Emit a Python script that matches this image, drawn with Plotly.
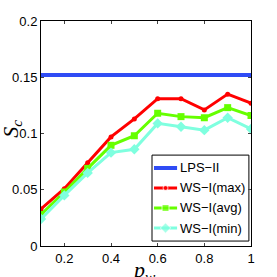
import plotly.graph_objects as go

x = [0.1, 0.2, 0.3, 0.4, 0.5, 0.6, 0.7, 0.8, 0.9, 1.0]
lps = [0.152] * 10
ws_max = [0.033, 0.051, 0.074, 0.097, 0.113, 0.131, 0.131, 0.121, 0.135, 0.127]
ws_avg = [0.028, 0.048, 0.069, 0.0895, 0.098, 0.118, 0.115, 0.114, 0.123, 0.116]
ws_min = [0.024, 0.045, 0.065, 0.083, 0.086, 0.109, 0.106, 0.103, 0.114, 0.104]
names = ["LPS\u2212II", "WS\u2212I(max)", "WS\u2212I(avg)", "WS\u2212I(min)"]
colors = ["#2f4cf5", "#ff0000", "#66ff00", "#7fffdf"]
symbols = [None, "circle", "square", "diamond"]
msizes = [0, 5, 7, 8]
lwidths = [4, 3, 3, 3]
series = [lps, ws_max, ws_avg, ws_min]

fig = go.Figure()
for s, n, c, sym, ms, lw in zip(series, names, colors, symbols, msizes, lwidths):
    if sym is None:
        fig.add_trace(go.Scatter(x=x, y=s, mode="lines", name=n,
                                 line=dict(color=c, width=lw), showlegend=False))
    else:
        fig.add_trace(go.Scatter(x=x, y=s, mode="lines+markers", name=n,
                                 line=dict(color=c, width=lw),
                                 marker=dict(symbol=sym, size=ms, color=c),
                                 showlegend=False))

# manual legend (overlay axes spanning the plot area)
box_x0, box_x1, box_y0, box_y1 = 0.5286, 0.990, 0.022, 0.404
row_y = [0.3467, 0.2578, 0.1689, 0.08]
lx0, lxm, lx1, tx = 0.538, 0.593, 0.648, 0.652
fig.add_shape(type="rect", xref="paper", yref="paper", x0=box_x0, x1=box_x1,
              y0=box_y0, y1=box_y1, line=dict(color="black", width=1),
              fillcolor="white", layer="below")
for yy, n, c, sym, ms, lw in zip(row_y, names, colors, symbols, msizes, lwidths):
    fig.add_trace(go.Scatter(x=[lx0, lxm, lx1], y=[yy, yy, yy], xaxis="x2", yaxis="y2",
                             mode="lines+markers" if sym else "lines",
                             line=dict(color=c, width=lw),
                             marker=dict(symbol=sym or "circle", size=[0, ms, 0], color=c),
                             showlegend=False, hoverinfo="skip", cliponaxis=False))
    fig.add_annotation(text=n, xref="paper", yref="paper", x=tx, y=yy,
                       xanchor="left", yanchor="middle", showarrow=False,
                       font=dict(family="Liberation Sans, Arial, sans-serif", size=13))

font = dict(family="Liberation Sans, Arial, sans-serif", size=13, color="black")
fig.update_layout(
    width=277, height=277,
    margin=dict(l=41, r=26, t=21, b=31),
    paper_bgcolor="white", plot_bgcolor="white",
    font=font,
    showlegend=False,
    xaxis=dict(range=[0.1, 1.0], tickvals=[0.2, 0.4, 0.6, 0.8, 1.0],
               ticktext=["0.2", "0.4", "0.6", "0.8", "1"],
               ticks="inside", ticklen=3, showgrid=False, zeroline=False,
               showline=True, linecolor="black", linewidth=1, mirror="ticks"),
    yaxis=dict(range=[0, 0.2], tickvals=[0, 0.05, 0.1, 0.15, 0.2],
               ticktext=["0", "0.05", "0.1", "0.15", "0.2"],
               ticks="inside", ticklen=3, showgrid=False, zeroline=False,
               showline=True, linecolor="black", linewidth=1, mirror="ticks"),
    xaxis2=dict(range=[0, 1], overlaying="x", visible=False, fixedrange=True),
    yaxis2=dict(range=[0, 1], overlaying="y", visible=False, fixedrange=True),
)
fig.add_annotation(text="<i>S<sub>c</sub></i>", xref="paper", yref="paper",
                   x=-0.215, y=0.52, xanchor="left", textangle=-90, showarrow=False,
                   font=dict(family="Liberation Serif, serif", size=22))
fig.add_annotation(text="<i>p<sub>w</sub></i>", xref="paper", yref="paper",
                   x=0.49, y=-0.11, yanchor="middle", showarrow=False,
                   font=dict(family="Liberation Serif, serif", size=22))
fig.write_html("out.html", config={"displayModeBar": False},
               post_script="document.body.style.margin='0';")
